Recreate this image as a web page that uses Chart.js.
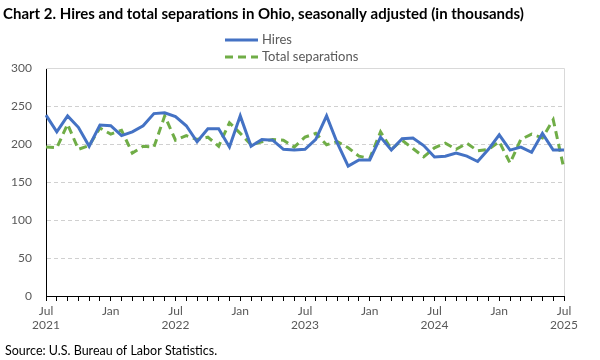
<!DOCTYPE html>
<html>
<head>
<meta charset="utf-8">
<script src="https://cdn.jsdelivr.net/npm/chart.js@4.4.1/dist/chart.umd.min.js"></script>
<style>
  html, body { margin: 0; padding: 0; background: #ffffff; }
  #wrap { width: 600px; height: 360px; }
</style>
</head>
<body>
<div id="wrap"><canvas id="c" width="600" height="360"></canvas></div>
<script>
const titleText = 'Chart 2. Hires and total separations in Ohio, seasonally adjusted (in thousands)';
const sourceText = 'Source: U.S. Bureau of Labor Statistics.';

const categories = [
  'Jul 2021','Aug 2021','Sep 2021','Oct 2021','Nov 2021','Dec 2021',
  'Jan 2022','Feb 2022','Mar 2022','Apr 2022','May 2022','Jun 2022',
  'Jul 2022','Aug 2022','Sep 2022','Oct 2022','Nov 2022','Dec 2022',
  'Jan 2023','Feb 2023','Mar 2023','Apr 2023','May 2023','Jun 2023',
  'Jul 2023','Aug 2023','Sep 2023','Oct 2023','Nov 2023','Dec 2023',
  'Jan 2024','Feb 2024','Mar 2024','Apr 2024','May 2024','Jun 2024',
  'Jul 2024','Aug 2024','Sep 2024','Oct 2024','Nov 2024','Dec 2024',
  'Jan 2025','Feb 2025','Mar 2025','Apr 2025','May 2025','Jun 2025',
  'Jul 2025'
];

const hires = [
  238, 216, 237, 222, 197, 225,
  224, 211, 216, 224, 240, 241,
  236, 224, 203, 220, 220, 196,
  237, 197, 206, 205, 193, 192,
  193, 206, 237, 201, 171, 179,
  179, 209, 192, 207, 208, 198,
  183, 184, 188, 184, 177, 193,
  212, 192, 196, 189, 214, 192,
  192
];

const totalSeparations = [
  196, 195, 226, 193, 198, 221,
  213, 218, 188, 197, 196, 237,
  205, 211, 206, 209, 197, 228,
  214, 199, 203, 206, 205, 196,
  209, 214, 199, 203, 195, 184,
  181, 216, 193, 205, 194, 183,
  195, 201, 193, 201, 191, 193,
  203, 175, 206, 213, 208, 232,
  167
];

const yTicks = [0, 50, 100, 150, 200, 250, 300];
const seriesNames = ['Hires', 'Total separations'];

const FONT = 'Lato, "Liberation Sans", sans-serif';
const TEXT_COLOR = '#595959';

const decor = {
  id: 'decor',
  beforeDraw(chart) {
    const ctx = chart.ctx;
    ctx.save();
    ctx.fillStyle = '#ffffff';
    ctx.fillRect(0, 0, chart.width, chart.height);
    ctx.restore();
  },
  beforeDatasetsDraw(chart) {
    const { ctx, chartArea: a } = chart;
    ctx.save();
    ctx.strokeStyle = '#d9d9d9';
    ctx.lineWidth = 1;
    ctx.beginPath();
    ctx.moveTo(a.left, a.top + 0.5);
    ctx.lineTo(a.right + 0.5, a.top + 0.5);
    ctx.lineTo(a.right + 0.5, a.bottom);
    ctx.stroke();
    ctx.restore();
  },
  afterDraw(chart) {
    const ctx = chart.ctx;
    ctx.save();
    // title
    ctx.fillStyle = '#000000';
    ctx.font = 'bold 15px ' + FONT;
    ctx.textBaseline = 'middle';
    ctx.textAlign = 'left';
    ctx.fillText(titleText, 3, 14);
    // legend
    const ds = chart.data.datasets;
    const lx0 = 225, lx1 = 258;
    const rows = [40, 57];
    ds.forEach((d, i) => {
      const y = rows[i];
      ctx.save();
      ctx.strokeStyle = d.borderColor;
      ctx.lineWidth = d.borderWidth;
      ctx.setLineDash(d.borderDash || []);
      ctx.beginPath();
      ctx.moveTo(lx0, y);
      ctx.lineTo(lx1, y);
      ctx.stroke();
      ctx.restore();
      ctx.fillStyle = TEXT_COLOR;
      ctx.font = '13px ' + FONT;
      ctx.textBaseline = 'middle';
      ctx.fillText(d.label, 262, y);
    });
    // source
    ctx.fillStyle = '#000000';
    ctx.font = '12.5px ' + FONT;
    ctx.textBaseline = 'middle';
    ctx.fillText(sourceText, 5, 351);
    ctx.restore();
  }
};

new Chart(document.getElementById('c'), {
  type: 'line',
  data: {
    labels: categories,
    datasets: [
      {
        label: seriesNames[0],
        data: hires,
        borderColor: '#4472C4',
        backgroundColor: '#4472C4',
        borderWidth: 3,
        pointRadius: 0,
        tension: 0,
        fill: false
      },
      {
        label: seriesNames[1],
        data: totalSeparations,
        borderColor: '#70AD47',
        backgroundColor: '#70AD47',
        borderWidth: 3,
        borderDash: [8, 5],
        pointRadius: 0,
        tension: 0,
        fill: false
      }
    ]
  },
  options: {
    responsive: false,
    animation: false,
    devicePixelRatio: 1,
    layout: { padding: { left: 0, right: 36, top: 68, bottom: 24 } },
    plugins: {
      legend: { display: false },
      title: { display: false },
      tooltip: { enabled: false }
    },
    scales: {
      x: {
        type: 'category',
        offset: false,
        afterFit(scale) { scale.height = 40; },
        grid: {
          display: true,
          drawOnChartArea: false,
          drawTicks: true,
          tickLength: 5,
          tickColor: '#000000',
          color: '#000000'
        },
        border: { display: true, color: '#000000', width: 1 },
        ticks: {
          autoSkip: false,
          maxRotation: 0,
          minRotation: 0,
          padding: 3,
          color: TEXT_COLOR,
          font: { family: FONT, size: 12 },
          callback(value, index) {
            const parts = categories[index].split(' ');
            if (parts[0] === 'Jul') return [parts[0], parts[1]];
            if (parts[0] === 'Jan') return parts[0];
            return '';
          }
        }
      },
      y: {
        min: yTicks[0],
        max: yTicks[yTicks.length - 1],
        afterFit(scale) { scale.width = 46; },
        afterBuildTicks(scale) { scale.ticks = yTicks.map(v => ({ value: v })); },
        grid: {
          drawTicks: false,
          color(ctx) {
            const v = ctx.tick ? ctx.tick.value : null;
            return (v === yTicks[0] || v === yTicks[yTicks.length - 1]) ? 'rgba(0,0,0,0)' : '#d0d0d0';
          },
          lineWidth: 1
        },
        border: { display: true, color: '#000000', width: 1, dash: [4, 3] },
        ticks: {
          padding: 14,
          color: TEXT_COLOR,
          font: { family: FONT, size: 12 }
        }
      }
    }
  },
  plugins: [decor]
});
</script>
</body>
</html>
